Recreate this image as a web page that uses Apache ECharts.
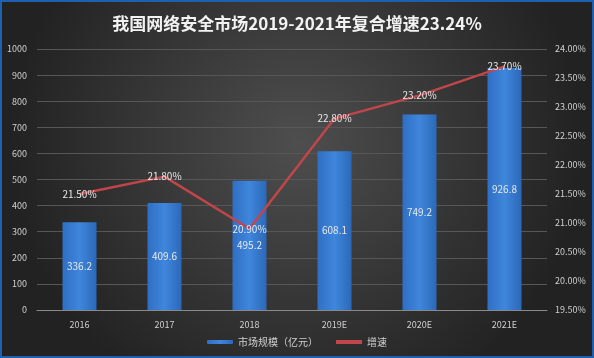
<!DOCTYPE html>
<html><head><meta charset="utf-8">
<script src="https://cdn.jsdelivr.net/npm/echarts@6/dist/echarts.min.js"></script>
<style>html,body{margin:0;padding:0;background:#2a2a2a}#w{position:relative;width:594px;height:358px}#c{width:594px;height:358px}#f{position:absolute;left:0;top:0;width:594px;height:358px;box-sizing:border-box;border:2px solid #1f5fb0;pointer-events:none}</style>
</head><body><div id="w"><div id="c"></div><div id="f"></div></div>
<script>
var categories = ['2016','2017','2018','2019E','2020E','2021E'];
var marketSize = [336.2, 409.6, 495.2, 608.1, 749.2, 926.8];
var growth = [21.5, 21.8, 20.9, 22.8, 23.2, 23.7];
var title = '我国网络安全市场2019-2021年复合增速23.24%';
var chart = echarts.init(document.getElementById('c'));
var font = '"Noto Sans CJK SC","Noto Sans",sans-serif';
chart.setOption({
  backgroundColor: new echarts.graphic.RadialGradient(0.5, 0.4, 0.8, [
    {offset: 0, color: '#4e4e4e'}, {offset: 1, color: '#222222'}]),
  textStyle: {fontFamily: font},
  title: {text: title, left: 'center', top: 10,
    textStyle: {color: '#f2f2f2', fontSize: 17, fontWeight: 'bold', fontFamily: font}},
  legend: {bottom: 6, left: 'center', itemWidth: 26, itemHeight: 4, itemGap: 18,
    textStyle: {color: '#d0d0d0', fontSize: 10},
    data: [{name: '市场规模（亿元）', icon: 'roundRect'}, {name: '增速', icon: 'rect'}]},
  grid: {left: 37, right: 47, top: 49, bottom: 48},
  xAxis: {type: 'category', data: categories,
    axisLine: {lineStyle: {color: '#8a8a8a'}}, axisTick: {show: false},
    axisLabel: {color: '#d0d0d0', fontSize: 9, margin: 10}},
  yAxis: [
    {type: 'value', min: 0, max: 1000, interval: 100,
      axisLabel: {color: '#d0d0d0', fontSize: 9, margin: 10, formatter: function (v) { return String(v); }},
      axisLine: {show: false}, axisTick: {show: false},
      splitLine: {lineStyle: {color: '#575757'}}},
    {type: 'value', min: 19.5, max: 24, interval: 0.5,
      axisLabel: {color: '#d0d0d0', fontSize: 9, margin: 8,
        formatter: function (v) { return v.toFixed(2) + '%'; }},
      axisLine: {show: false}, axisTick: {show: false}, splitLine: {show: false}}
  ],
  series: [
    {name: '市场规模（亿元）', type: 'bar', data: marketSize, barWidth: 34,
      itemStyle: {color: new echarts.graphic.LinearGradient(0, 0, 1, 0, [
        {offset: 0, color: '#2f6fc4'}, {offset: 0.5, color: '#3f86dc'}, {offset: 1, color: '#2c68b8'}])},
      label: {show: true, position: 'inside', color: '#e8e8e8', fontSize: 10,
        formatter: function (p) { return p.value.toFixed(1); }}},
    {name: '增速', type: 'line', yAxisIndex: 1, data: growth,
      symbol: 'circle', symbolSize: 0.1, lineStyle: {color: '#c0464a', width: 2.5}, itemStyle: {color: '#c0464a'},
      label: {show: true, position: 'inside', color: '#e8e8e8', fontSize: 10,
        formatter: function (p) { return p.value.toFixed(2) + '%'; }}}
  ]
});
</script></body></html>
